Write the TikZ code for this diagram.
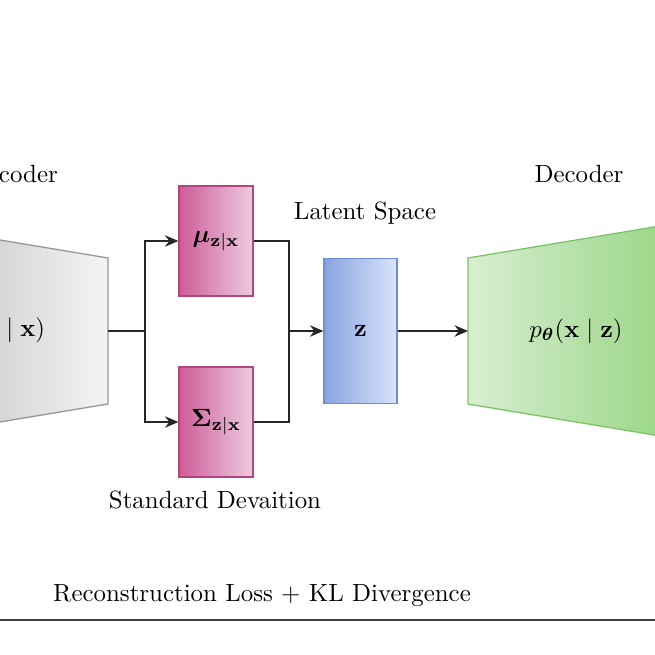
\documentclass[tikz,border=0pt]{standalone}
\usepackage{amsmath,bm}
\usetikzlibrary{arrows.meta}
\definecolor{pinkL}{RGB}{206,92,152}
\definecolor{pinkR}{RGB}{236,204,224}
\definecolor{pinkB}{RGB}{178,68,128}
\definecolor{blueL}{RGB}{138,163,224}
\definecolor{blueR}{RGB}{216,228,250}
\definecolor{blueB}{RGB}{112,140,210}
\definecolor{greenL}{RGB}{216,238,210}
\definecolor{greenR}{RGB}{148,212,128}
\definecolor{greenB}{RGB}{122,196,98}
\definecolor{grayL}{RGB}{186,186,186}
\definecolor{grayR}{RGB}{244,244,244}
\definecolor{grayB}{RGB}{150,150,150}
\begin{document}
\begin{tikzpicture}[x=0.4016pt,y=-0.4016pt,
    every node/.style={inner sep=0pt},
    conn/.style={draw=black!85,line width=0.7pt},
    arr/.style={conn,-{Stealth[length=5.4pt,width=4.6pt]}},
    parbox/.style={draw=pinkB,line width=0.5pt,left color=pinkL,right color=pinkR,
      minimum width=29.7pt,minimum height=44.2pt},
    latbox/.style={draw=blueB,line width=0.5pt,left color=blueL,right color=blueR,
      minimum width=29.3pt,minimum height=58.2pt}]
  \useasboundingbox (0,0) rectangle (655,655);
  \clip (0,0) rectangle (655,655);
  % encoder and decoder
  \draw[draw=grayB,line width=0.5pt,left color=grayL,right color=grayR]
    (-108,222) -- (108,258) -- (108,404) -- (-108,440) -- cycle;
  \draw[draw=greenB,line width=0.5pt,left color=greenL,right color=greenR]
    (468,258) -- (684,222) -- (684,440) -- (468,404) -- cycle;
  \node (enc) at (-2,331) {$q_{\bm\phi}(\mathbf{z}\mid\mathbf{x})$};
  \node (dec) at (576,331) {$p_{\bm\theta}(\mathbf{x}\mid\mathbf{z})$};
  \coordinate (encR) at (108,331);
  \coordinate (decL) at (468,331);
  \node (enclabel) at (13,174) {Encoder};
  \node (declabel) at (579,174) {Decoder};
  % latent part
  \node[parbox] (mu) at (216,241) {$\bm{\mu}_{\mathbf{z}|\mathbf{x}}$};
  \node[parbox] (sig) at (216,422) {$\bm{\Sigma}_{\mathbf{z}|\mathbf{x}}$};
  \node[latbox] (z) at (360.5,331) {$\mathbf{z}$};
  \node (latlabel) at (365,213) {Latent Space};
  \node (stdlabel) at (215,500) {Standard Devaition};
  \coordinate (split) at (145,331);
  \coordinate (merge) at (289,331);
  \draw[conn] (encR) -- (split);
  \draw[arr] (split) |- (mu);
  \draw[arr] (split) |- (sig);
  \draw[conn] (mu.east) -| (merge) |- (sig.east);
  \draw[arr] (merge) -- (z);
  \draw[arr] (z) -- (decL);
  % loss
  \node (loss) at (262,596) {Reconstruction Loss $+$ KL Divergence};
  \draw[draw=black!75,line width=0.8pt] (0,620) -- (655,620);
\end{tikzpicture}
\end{document}
